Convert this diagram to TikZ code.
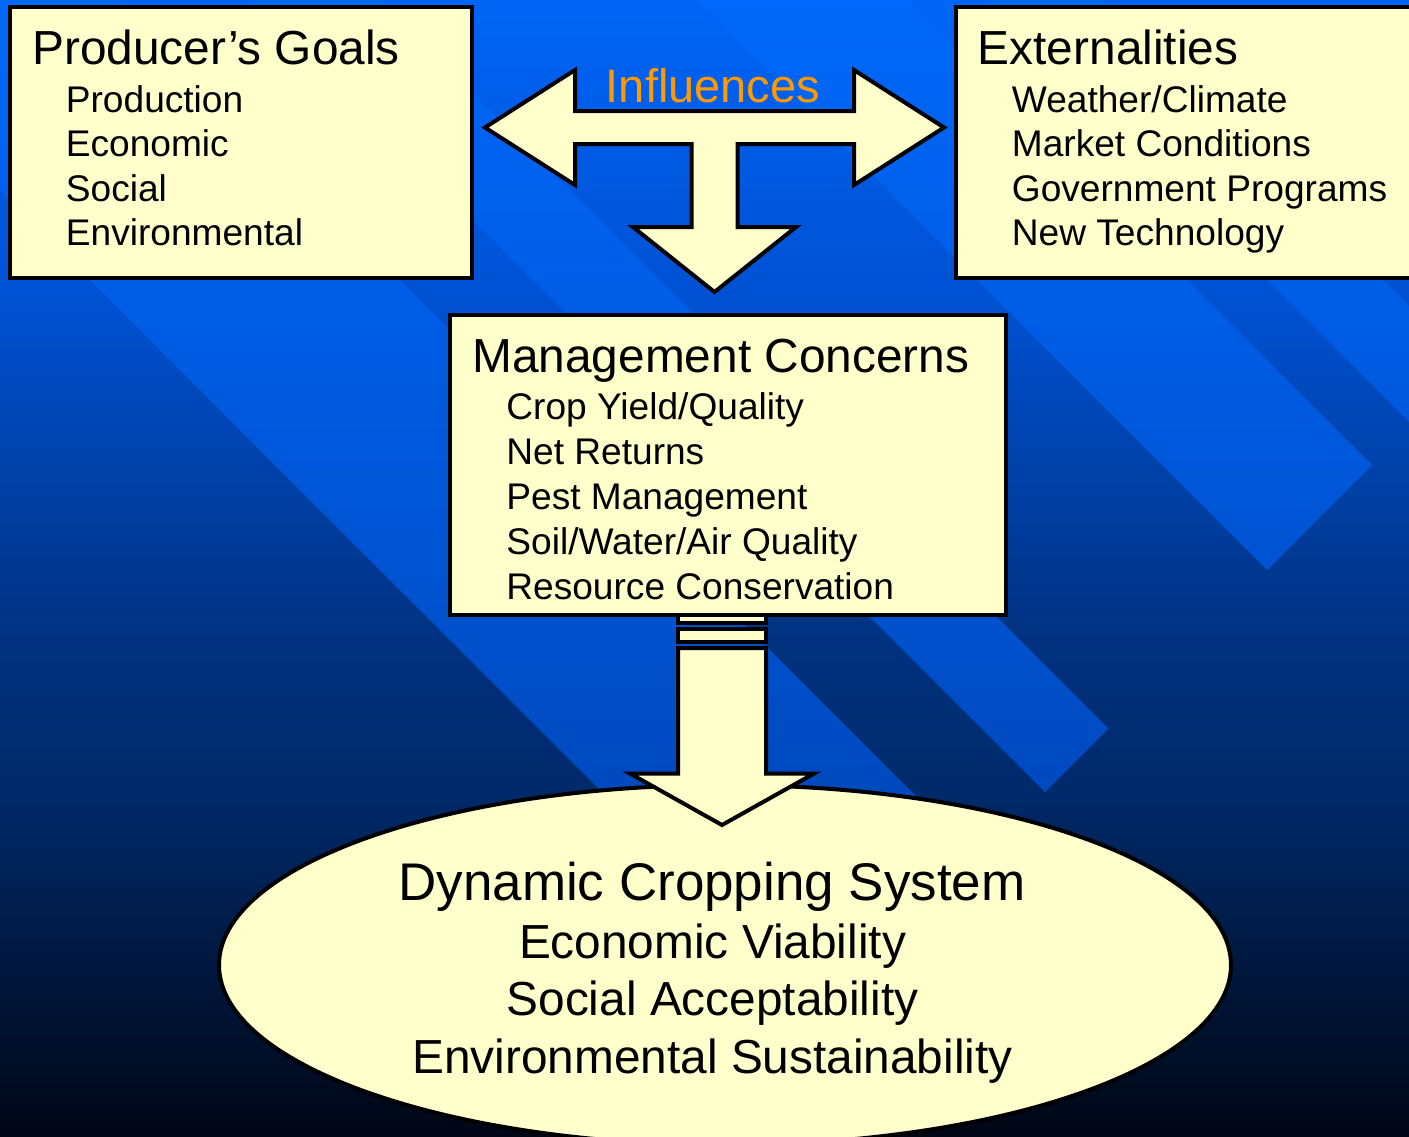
\documentclass[tikz,border=0pt]{standalone}
\usepackage{fontspec}
\setmainfont{Liberation Sans}
\usetikzlibrary{shapes.geometric}

\definecolor{cream}{RGB}{255,255,204}
\definecolor{inflorange}{RGB}{255,153,0}
% backdrop gradient, top to bottom
\definecolor{bgA}{RGB}{0,101,246}
\definecolor{bgB}{RGB}{0,81,210}
\definecolor{bgC}{RGB}{0,49,126}
\definecolor{bgD}{RGB}{0,41,104}
\definecolor{bgE}{RGB}{0,6,20}
% lighter diagonal bands
\definecolor{bandA}{RGB}{0,104,250}
\definecolor{bandB}{RGB}{0,88,220}
\definecolor{bandC}{RGB}{0,73,190}

\pgfdeclareverticalshading{slidebg}{100bp}{color(0bp)=(bgE); color(25bp)=(bgE);
  color(39.8bp)=(bgD); color(46.4bp)=(bgC); color(61.8bp)=(bgB); color(75bp)=(bgA); color(100bp)=(bgA)}
\pgfdeclareverticalshading{bandshade}{100bp}{color(0bp)=(bandC); color(25bp)=(bandC);
  color(39.8bp)=(bandC); color(55.2bp)=(bandB); color(75bp)=(bandA); color(100bp)=(bandA)}

\tikzset{
  panel/.style={draw=black, fill=cream, line width=2pt, inner sep=0pt, outer sep=0pt, anchor=north west},
  blockarrow/.style={draw=black, fill=cream, line width=2pt, line join=miter, miter limit=10},
  headtxt/.style={anchor=base west, inner sep=0pt, font=\fontsize{23.9}{28}\selectfont},
  itemtxt/.style={anchor=base west, inner sep=0pt, font=\fontsize{18.55}{22}\selectfont},
  ovaltitle/.style={anchor=base, inner sep=0pt, font=\fontsize{26.5}{31}\selectfont},
  ovaltxt/.style={anchor=base, inner sep=0pt, font=\fontsize{23.9}{28}\selectfont},
  infltxt/.style={anchor=base, inner sep=0pt, text=inflorange, font=\fontsize{23.5}{28}\selectfont}
}

\begin{document}
\begin{tikzpicture}[x=0.5pt, y=-0.5pt]
\useasboundingbox (0,0) rectangle (1409,1136);
\clip (0,0) rectangle (1409,1136);

% backdrop
\shade[shading=slidebg] (0,0) rectangle (1409,1136);
\begin{scope}
  \clip (-210,-20) -- (100,-20) -- (978.5,858.5) -- (823.5,1013.5) -- cycle
        (233,-20) -- (360,-20) -- (1108.5,728.5) -- (1045,792) -- cycle
        (677,-20) -- (887,-20) -- (1372,465) -- (1267,570) -- cycle
        (967,-20) -- (1083,-20) -- (1470,367) -- (1412,425) -- cycle;
  \shade[shading=bandshade] (0,0) rectangle (1409,1136);
\end{scope}

% outcome oval
\node[ellipse, draw=black, fill=cream, line width=2pt, inner sep=0pt, outer sep=0pt,
      minimum width=506pt, minimum height=180pt] (system) at (725,965) {};

% striped arrow from the concerns box down to the oval
\draw[blockarrow] (678,605) rectangle (766,622.5);
\draw[blockarrow] (678,628.5) rectangle (766,641.5);
\draw[blockarrow] (678,648) -- (766,648) -- (766,773.5) -- (814,773.5) -- (722,825)
      -- (630,773.5) -- (678,773.5) -- cycle;

% boxes
\node[panel, minimum width=277.75pt, minimum height=149.75pt] (mgmt) at (450,315) {};
\node[panel, minimum width=231pt, minimum height=135.5pt] (goals) at (10,7) {};
\node[panel, minimum width=240pt, minimum height=135.5pt] (ext) at (956,7) {};

% three-way influence arrow
\draw[blockarrow] (485,127.5) -- (575,70) -- (575,111) -- (854,111) -- (854,70) -- (944,127.5)
      -- (854,185) -- (854,144) -- (737.5,144) -- (737.5,227) -- (796,227) -- (714.5,292)
      -- (633,227) -- (691.5,227) -- (691.5,144) -- (575,144) -- (575,185) -- cycle;
\node[infltxt] (infl) at (713,102) {Influences};

% producer's goals
\node[headtxt] (goalsT) at (32,64) {Producer’s Goals};
\node[itemtxt] (goals1) at (65.5,112) {Production};
\node[itemtxt] (goals2) at (65.5,156.5) {Economic};
\node[itemtxt] (goals3) at (65.5,201) {Social};
\node[itemtxt] (goals4) at (65.5,245.5) {Environmental};

% externalities
\node[headtxt] (extT) at (977.5,64) {Externalities};
\node[itemtxt] (ext1) at (1011.5,112) {Weather/Climate};
\node[itemtxt] (ext2) at (1011.5,156.5) {Market Conditions};
\node[itemtxt] (ext3) at (1011.5,201) {Government Programs};
\node[itemtxt] (ext4) at (1011.5,245.5) {New Technology};

% management concerns
\node[headtxt] (mgmtT) at (472,372.5) {Management Concerns};
\node[itemtxt] (mgmt1) at (506,419) {Crop Yield/Quality};
\node[itemtxt] (mgmt2) at (506,464) {Net Returns};
\node[itemtxt] (mgmt3) at (506,509) {Pest Management};
\node[itemtxt] (mgmt4) at (506,554) {Soil/Water/Air Quality};
\node[itemtxt] (mgmt5) at (506,599) {Resource Conservation};

% cropping system
\node[ovaltitle] (sysT) at (712,900) {Dynamic Cropping System};
\node[ovaltxt] (sys1) at (712.5,958) {Economic Viability};
\node[ovaltxt] (sys2) at (712.5,1015.5) {Social Acceptability};
\node[ovaltxt] (sys3) at (712.5,1073) {Environmental Sustainability};
\end{tikzpicture}
\end{document}
